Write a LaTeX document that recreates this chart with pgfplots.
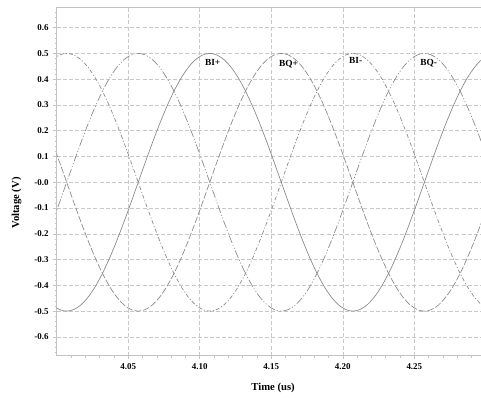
\documentclass[border=0pt]{standalone}
\usepackage{fontspec}
\setmainfont{Liberation Serif}
\usepackage{pgfplots}
\pgfplotsset{compat=1.18}
\usepackage{pgfplotstable}

\pgfplotstableread{
t A B C D
3.997 -0.4755 0.1545 0.4755 -0.1545
4.002 -0.4938 0.0782 0.4938 -0.0782
4.007 -0.5 0 0.5 0
4.012 -0.4938 -0.0782 0.4938 0.0782
4.017 -0.4755 -0.1545 0.4755 0.1545
4.022 -0.4455 -0.2270 0.4455 0.2270
4.027 -0.4045 -0.2939 0.4045 0.2939
4.032 -0.3536 -0.3536 0.3536 0.3536
4.037 -0.2939 -0.4045 0.2939 0.4045
4.042 -0.2270 -0.4455 0.2270 0.4455
4.047 -0.1545 -0.4755 0.1545 0.4755
4.052 -0.0782 -0.4938 0.0782 0.4938
4.057 0 -0.5 0 0.5
4.062 0.0782 -0.4938 -0.0782 0.4938
4.067 0.1545 -0.4755 -0.1545 0.4755
4.072 0.2270 -0.4455 -0.2270 0.4455
4.077 0.2939 -0.4045 -0.2939 0.4045
4.082 0.3536 -0.3536 -0.3536 0.3536
4.087 0.4045 -0.2939 -0.4045 0.2939
4.092 0.4455 -0.2270 -0.4455 0.2270
4.097 0.4755 -0.1545 -0.4755 0.1545
4.102 0.4938 -0.0782 -0.4938 0.0782
4.107 0.5 0 -0.5 0
4.112 0.4938 0.0782 -0.4938 -0.0782
4.117 0.4755 0.1545 -0.4755 -0.1545
4.122 0.4455 0.2270 -0.4455 -0.2270
4.127 0.4045 0.2939 -0.4045 -0.2939
4.132 0.3536 0.3536 -0.3536 -0.3536
4.137 0.2939 0.4045 -0.2939 -0.4045
4.142 0.2270 0.4455 -0.2270 -0.4455
4.147 0.1545 0.4755 -0.1545 -0.4755
4.152 0.0782 0.4938 -0.0782 -0.4938
4.157 0 0.5 0 -0.5
4.162 -0.0782 0.4938 0.0782 -0.4938
4.167 -0.1545 0.4755 0.1545 -0.4755
4.172 -0.2270 0.4455 0.2270 -0.4455
4.177 -0.2939 0.4045 0.2939 -0.4045
4.182 -0.3536 0.3536 0.3536 -0.3536
4.187 -0.4045 0.2939 0.4045 -0.2939
4.192 -0.4455 0.2270 0.4455 -0.2270
4.197 -0.4755 0.1545 0.4755 -0.1545
4.202 -0.4938 0.0782 0.4938 -0.0782
4.207 -0.5 0 0.5 0
4.212 -0.4938 -0.0782 0.4938 0.0782
4.217 -0.4755 -0.1545 0.4755 0.1545
4.222 -0.4455 -0.2270 0.4455 0.2270
4.227 -0.4045 -0.2939 0.4045 0.2939
4.232 -0.3536 -0.3536 0.3536 0.3536
4.237 -0.2939 -0.4045 0.2939 0.4045
4.242 -0.2270 -0.4455 0.2270 0.4455
4.247 -0.1545 -0.4755 0.1545 0.4755
4.252 -0.0782 -0.4938 0.0782 0.4938
4.257 0 -0.5 0 0.5
4.262 0.0782 -0.4938 -0.0782 0.4938
4.267 0.1545 -0.4755 -0.1545 0.4755
4.272 0.2270 -0.4455 -0.2270 0.4455
4.277 0.2939 -0.4045 -0.2939 0.4045
4.282 0.3536 -0.3536 -0.3536 0.3536
4.287 0.4045 -0.2939 -0.4045 0.2939
4.292 0.4455 -0.2270 -0.4455 0.2270
4.297 0.4755 -0.1545 -0.4755 0.1545
4.302 0.4938 -0.0782 -0.4938 0.0782
}\wave

\definecolor{curve}{RGB}{135,135,135}
\definecolor{gridc}{RGB}{200,200,200}
\definecolor{axc}{RGB}{195,195,195}

\begin{document}
\begin{tikzpicture}
\useasboundingbox (-42.5pt,-31.7pt) rectangle (318.2pt,266.75pt);
\begin{axis}[
  scale only axis, width=318.2pt, height=261.5pt,
  xmin=4.0, xmax=4.2966, ymin=-0.673, ymax=0.68,
  axis x line*=box, axis y line*=left,
  xtick pos=bottom,
  xtick={4.05,4.10,4.15,4.20,4.25},
  xticklabels={4.05,4.10,4.15,4.20,4.25},
  minor xtick={4.01,4.02,4.03,4.04,4.06,4.07,4.08,4.09,4.11,4.12,4.13,4.14,4.16,4.17,4.18,4.19,4.21,4.22,4.23,4.24,4.26,4.27,4.28,4.29},
  ytick={-0.6,-0.5,-0.4,-0.3,-0.2,-0.1,0,0.1,0.2,0.3,0.4,0.5,0.6},
  yticklabels={-0.6,-0.5,-0.4,-0.3,-0.2,-0.1,-0.0,0.1,0.2,0.3,0.4,0.5,0.6},
  minor ytick={-0.66,-0.64,-0.62,-0.58,-0.56,-0.54,-0.52,-0.48,-0.46,-0.44,-0.42,-0.38,-0.36,-0.34,-0.32,-0.28,-0.26,-0.24,-0.22,-0.18,-0.16,-0.14,-0.12,-0.08,-0.06,-0.04,-0.02,0.02,0.04,0.06,0.08,0.12,0.14,0.16,0.18,0.22,0.24,0.26,0.28,0.32,0.34,0.36,0.38,0.42,0.44,0.46,0.48,0.52,0.54,0.56,0.58,0.62,0.64,0.66},
  tick align=outside,
  major tick length=2.5pt, minor tick length=1.6pt,
  tick style={axc, line width=0.4pt},
  ticklabel style={font=\bfseries\fontsize{6.7}{8}\selectfont, text=black},
  grid=major,
  major grid style={gridc, dash pattern=on 3pt off 1.6pt, line width=0.45pt},
  axis line style={axc, line width=0.5pt},
  xlabel={Time (us)}, ylabel={Voltage (V)},
  label style={font=\bfseries\fontsize{8}{10}\selectfont},
  xlabel style={at={(axis description cs:0.51,-0.0918)}, anchor=center},
  ylabel style={at={(axis description cs:-0.0943,0.438)}, anchor=center},
]
\addplot[curve, line width=0.5pt, smooth] table[x=t, y=A] {\wave};
\addplot[curve, line width=0.5pt, smooth, dash pattern=on 5pt off 1.5pt] table[x=t, y=B] {\wave};
\addplot[curve, line width=0.5pt, smooth, dash pattern=on 3pt off 1.5pt on 0.8pt off 1.5pt] table[x=t, y=C] {\wave};
\addplot[curve, line width=0.5pt, smooth, dash pattern=on 6pt off 1.5pt on 0.8pt off 1.5pt on 0.8pt off 1.5pt] table[x=t, y=D] {\wave};
\node[font=\bfseries\fontsize{7}{8}\selectfont] at (axis cs:4.109,0.463) {BI+};
\node[font=\bfseries\fontsize{7}{8}\selectfont] at (axis cs:4.162,0.46) {BQ+};
\node[font=\bfseries\fontsize{7}{8}\selectfont] at (axis cs:4.209,0.473) {BI-};
\node[font=\bfseries\fontsize{7}{8}\selectfont] at (axis cs:4.260,0.463) {BQ-};
\end{axis}
\end{tikzpicture}
\end{document}
